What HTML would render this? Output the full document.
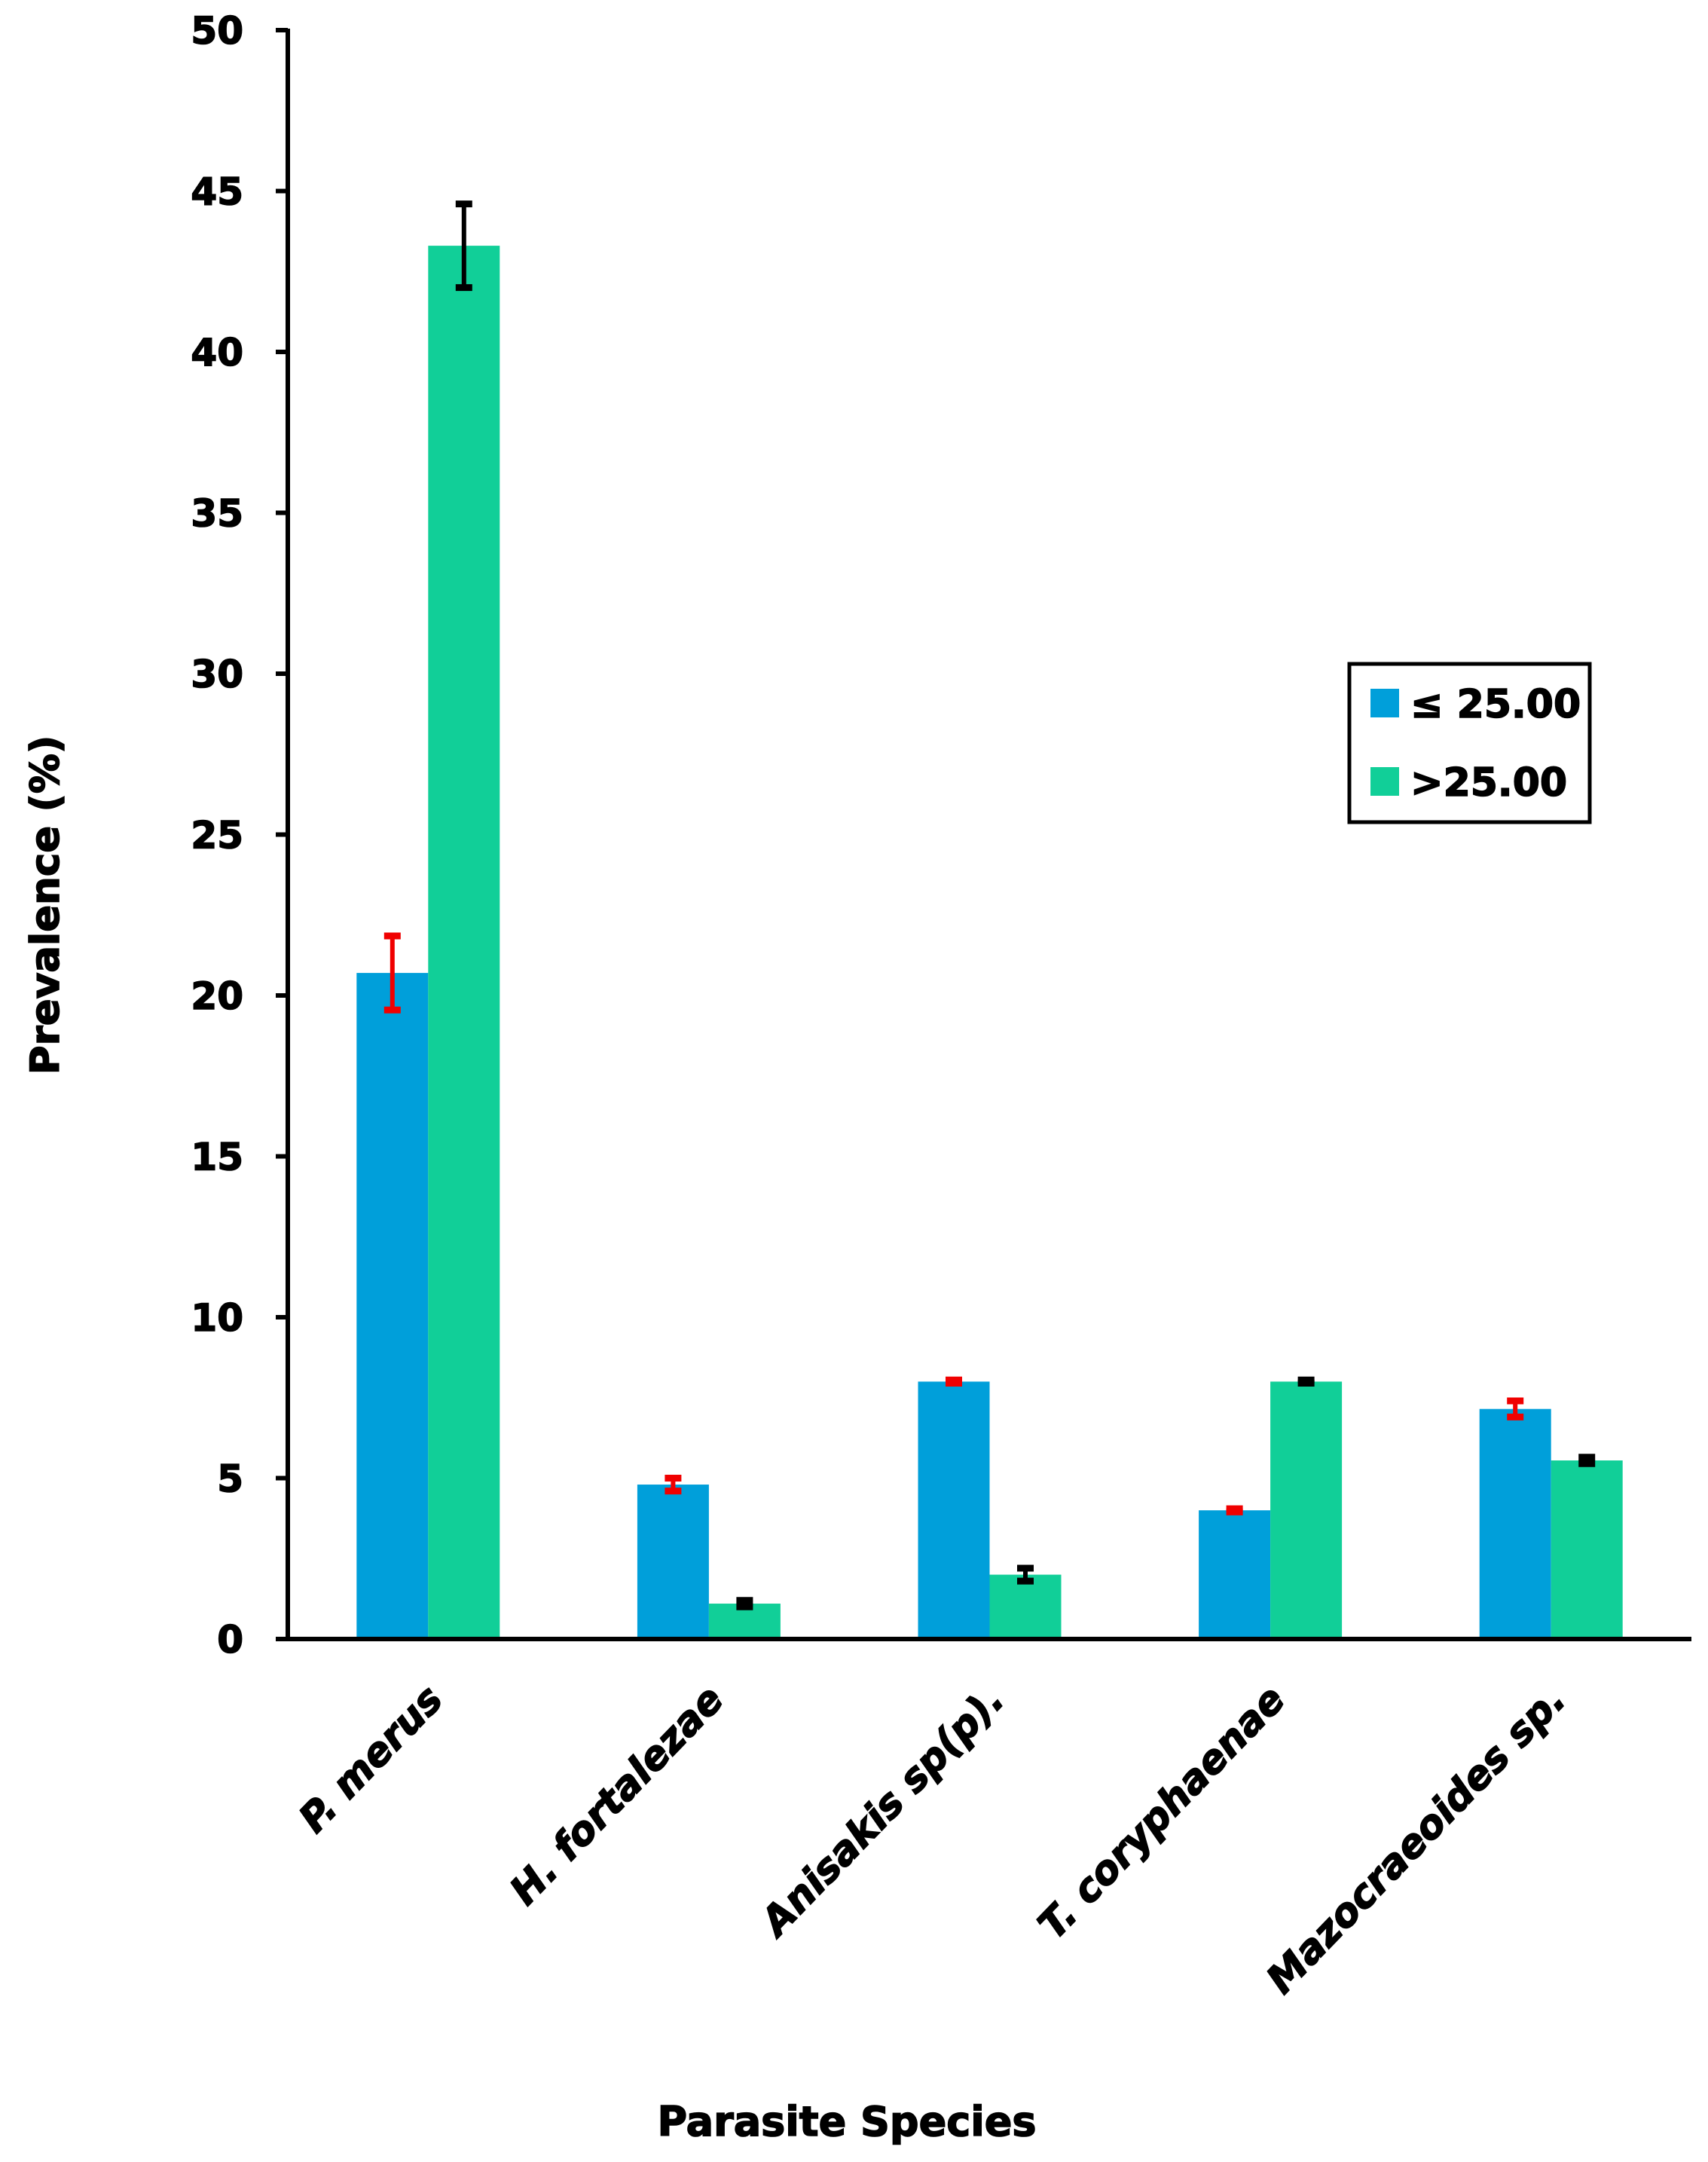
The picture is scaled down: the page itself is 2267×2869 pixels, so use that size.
<!DOCTYPE html>
<html><head><meta charset="utf-8"><style>
html,body{margin:0;padding:0;background:#fff;}
svg{display:block;font-family:"DejaVu Sans","Liberation Sans",Arial,sans-serif;font-weight:bold;}
text{stroke:#000;stroke-width:1.6;}
</style></head><body>
<svg id="chart" width="2267" height="2869" viewBox="0 0 2267 2869" xmlns="http://www.w3.org/2000/svg">
<g id="bars"></g>
<g id="axes"></g>
<g id="legend">
  <rect x="1791" y="881" width="319" height="210" fill="#fff" stroke="#000" stroke-width="5"/>
  <rect x="1819" y="914" width="38" height="38" fill="#009FDA"/>
  <text x="1872" y="952" font-size="52">≤ 25.00</text>
  <rect x="1819" y="1018" width="38" height="38" fill="#11CF98"/>
  <text x="1872" y="1056" font-size="52">&gt;25.00</text>
</g>
<text transform="translate(78,1201) rotate(-90)" text-anchor="middle" font-size="53">Prevalence (%)</text>
<text x="1124" y="2834" text-anchor="middle" font-size="54">Parasite Species</text>
</svg>
<script>
const categories = ["P. merus","H. fortalezae","Anisakis sp(p).","T. coryphaenae","Mazocraeoides sp."];
const seriesLow = [20.7, 4.8, 8.0, 4.0, 7.15];
const seriesHigh = [43.3, 1.1, 2.0, 8.0, 5.55];
const errLow = [1.15, 0.2, 0.05, 0.05, 0.25];
const errHigh = [1.3, 0.1, 0.2, 0.05, 0.1];
const yTicks = [0,5,10,15,20,25,30,35,40,45,50];

const NS = "http://www.w3.org/2000/svg";
const x0 = 382, x1 = 2245, yBase = 2175, yTop = 40, yMax = 50;
const catW = (x1 - x0) / categories.length;
const barW = 95;
function yScale(v){ return yBase - (v / yMax) * (yBase - yTop); }
function xCenter(i){ return x0 + catW * (i + 0.5); }
function mk(tag, attrs, parent){
  const e = document.createElementNS(NS, tag);
  for (const k in attrs) e.setAttribute(k, attrs[k]);
  parent.appendChild(e);
  return e;
}
const bars = document.getElementById('bars');
const axes = document.getElementById('axes');
function errBar(cx, v, e, color, name){
  const g = mk('g', {}, bars);
  
  
  const yt = yScale(v + e) - 3, yb = yScale(v - e) + 3;
  mk('line', {x1:cx, x2:cx, y1:yt, y2:yb, stroke:color, 'stroke-width':6}, g);
  mk('line', {x1:cx-11, x2:cx+11, y1:yt+3, y2:yt+3, stroke:color, 'stroke-width':9}, g);
  mk('line', {x1:cx-11, x2:cx+11, y1:yb-3, y2:yb-3, stroke:color, 'stroke-width':9}, g);
}
categories.forEach((c, i) => {
  const cx = xCenter(i);
  const b1 = mk('rect', {x:cx - barW, y:yScale(seriesLow[i]), width:barW, height:yBase - yScale(seriesLow[i]), fill:'#009FDA'}, bars);
  
  
  const b2 = mk('rect', {x:cx, y:yScale(seriesHigh[i]), width:barW, height:yBase - yScale(seriesHigh[i]), fill:'#11CF98'}, bars);
  
  
  errBar(cx - barW/2, seriesLow[i], errLow[i], '#F00000', 'error-bar-le25-' + i);
  errBar(cx + barW/2, seriesHigh[i], errHigh[i], '#000000', 'error-bar-gt25-' + i);
  const t = mk('text', {transform:'translate(' + (cx + 22) + ',2258) rotate(-46)', 'text-anchor':'end', 'font-size':52, 'font-style':'italic'}, axes);
  
  
  t.textContent = c;
});
const ya = mk('line', {x1:x0, x2:x0, y1:yTop - 2, y2:yBase + 2, stroke:'#000', 'stroke-width':6}, axes);


const xa = mk('line', {x1:366, x2:x1, y1:yBase, y2:yBase, stroke:'#000', 'stroke-width':6}, axes);


yTicks.forEach(v => {
  const y = yScale(v);
  const tk = mk('line', {x1:366, x2:x0, y1:y, y2:y, stroke:'#000', 'stroke-width':6}, axes);
  
  
  const lb = mk('text', {x:323, y:y + 18, 'text-anchor':'end', 'font-size':50}, axes);
  
  
  lb.textContent = v;
});
</script>
</body></html>
